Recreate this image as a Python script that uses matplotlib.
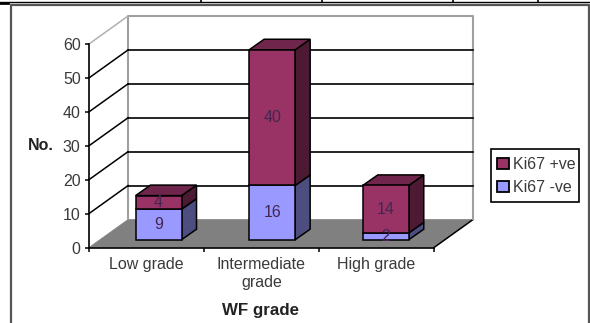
import matplotlib
matplotlib.use("Agg")
import matplotlib.pyplot as plt
from matplotlib.lines import Line2D
from matplotlib.patches import Patch, Polygon, Rectangle

plt.rcParams['font.family'] = ['Liberation Sans', 'DejaVu Sans']

categories = ["Low grade", "Intermediate\ngrade", "High grade"]
ki67_neg = [9, 16, 2]
ki67_pos = [4, 40, 14]
y_ticks = [0, 10, 20, 30, 40, 50, 60]

MAROON = ("#993366", "#70264c", "#4d1a33")
BLUE = ("#9999ff", "#7373bf", "#4d4d80")
TEXT = "#3a3a3a"

W, H = 590, 323
# depth of the box and of the bars, in data units
DX, DY = 0.34, 8.26
BAR_DX, BAR_DY = 0.13, 3.1
BAR_START, BAR_STEP = 0.605, 0.988
LIFT = 2.3
BAR_W = 0.40

fig = plt.figure(figsize=(W / 100, H / 100), dpi=100)
ax = fig.add_axes([89 / W, 1 - 247.5 / H, 345 / W, 203.5 / H])
ax.set_xlim(0, 3)
ax.set_ylim(0, 60)
ax.patch.set_visible(False)
for s in ["top", "right"]:
    ax.spines[s].set_visible(False)
for s in ["left", "bottom"]:
    ax.spines[s].set_linewidth(1.2)
    ax.spines[s].set_zorder(6)


def poly(pts, fc, ec="black", z=3, lw=1.1):
    ax.add_patch(Polygon(pts, closed=True, facecolor=fc, edgecolor=ec, linewidth=lw,
                         zorder=z, clip_on=False, joinstyle="miter"))


def depth_line(y, color, lw=1.1):
    ax.plot([0, DX], [y, y + DY], color=color, lw=lw, clip_on=False, zorder=1)


# floor and back wall
poly([(0, 0), (3, 0), (3 + DX, DY), (DX, DY)], "#808080", "#808080", z=0.5, lw=0.5)
ax.plot([3, 3 + DX], [0, DY], color="black", lw=1.1, clip_on=False, zorder=1)
ax.plot([DX, DX, 3 + DX, 3 + DX], [DY, 60 + DY, 60 + DY, DY], color="#a0a0a0", lw=1.5,
        clip_on=False, zorder=1)

for v in y_ticks[1:-1]:
    depth_line(v, "black")
    ax.plot([DX, 3 + DX], [v + DY, v + DY], color="black", lw=1.2, clip_on=False, zorder=1)
depth_line(60, "#b0b0b0")

# stacked bars, front face from the values and the sides offset for depth
for i in range(len(categories)):
    x0 = BAR_START + i * BAR_STEP - BAR_W / 2
    x1 = x0 + BAR_W
    base = LIFT
    for val, cols in ((ki67_neg[i], BLUE), (ki67_pos[i], MAROON)):
        top = base + val
        ax.bar(x0, val, BAR_W, bottom=base, align="edge", color=cols[0], edgecolor="black",
               linewidth=1.1, zorder=4, clip_on=False)
        poly([(x1, base), (x1 + BAR_DX, base + BAR_DY), (x1 + BAR_DX, top + BAR_DY), (x1, top)],
             cols[2])
        ax.text((x0 + x1) / 2, base + val / 2, str(val), ha="center", va="center", fontsize=11.5,
                color="#44264f", zorder=5, clip_on=False)
        base = top
    poly([(x0, base), (x0 + BAR_DX, base + BAR_DY), (x1 + BAR_DX, base + BAR_DY), (x1, base)],
         MAROON[1])

ax.set_yticks(y_ticks)
ax.set_xticks([0, 1, 2, 3])
ax.set_xticklabels([])
ax.set_xticks([0.5, 1.5, 2.5], categories, minor=True, fontsize=11.5, color=TEXT,
              linespacing=1.3)
ax.tick_params(axis="x", which="minor", length=0, pad=6.5)
ax.tick_params(axis="x", which="major", length=3, width=1.1)
ax.tick_params(axis="y", length=3, width=1.1, labelsize=11.5, labelcolor=TEXT, pad=3)

fig.text(41 / W, 1 - 145 / H, "No.", fontsize=11.5, fontweight="bold", color="#222222",
         ha="center", va="center")
fig.text(260 / W, 1 - 311 / H, "WF grade", fontsize=12.2, fontweight="bold", color="#222222",
         ha="center", va="center")

# legend box is fixed, the entries sit inside it without their own frame
fig.add_artist(Rectangle((491 / W, 1 - 201.5 / H), 87.5 / W, 52.5 / H, transform=fig.transFigure,
                         facecolor="white", edgecolor="black", linewidth=1.2))
handles = [Patch(facecolor=MAROON[0], edgecolor="black", linewidth=1.3, label="Ki67 +ve"),
           Patch(facecolor=BLUE[0], edgecolor="black", linewidth=1.3, label="Ki67 -ve")]
leg = fig.legend(handles=handles, loc="upper left",
                 bbox_to_anchor=(497 / W, 1 - 157 / H),
                 fontsize=11.5, frameon=False, handlelength=0.72, handleheight=0.72,
                 handletextpad=0.3, labelspacing=0.52, borderpad=0, borderaxespad=0,
                 labelcolor=TEXT)

# surrounding chart frame and the table rule above it
frame_x = [11 / W, 11 / W, 589 / W, 589 / W]
frame_y = [0, 1 - 5 / H, 1 - 5 / H, 0]
fig.add_artist(Line2D(frame_x, frame_y, color="#555555", lw=1.6))
fig.add_artist(Line2D([0, 1], [1 - 2 / H, 1 - 2 / H], color="black", lw=1.0))
fig.add_artist(Line2D([0, 8 / W], [1 - 2.5 / H, 1 - 2.5 / H], color="black", lw=2))
for rule_x in (201, 322, 453, 538):
    fig.add_artist(Line2D([rule_x / W, rule_x / W], [1, 1 - 2 / H], color="black", lw=1.2))

fig.savefig("out.png", dpi=100)
